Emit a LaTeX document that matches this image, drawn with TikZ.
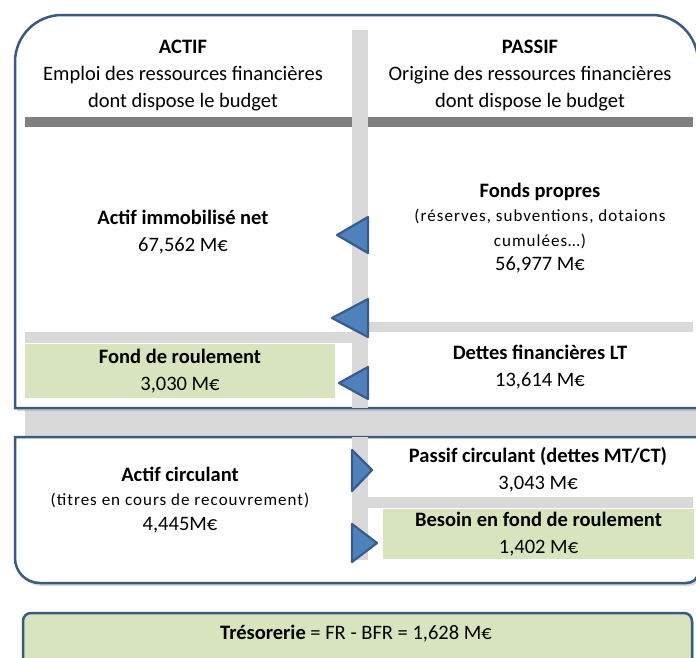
\documentclass[tikz,border=0pt]{standalone}
\usepackage{fontspec}
\setmainfont{Carlito}
\usetikzlibrary{positioning,shadows}

\definecolor{boxline}{HTML}{3A5A80}
\definecolor{barlight}{HTML}{D9D9D9}
\definecolor{bardark}{HTML}{808080}
\definecolor{greenfill}{HTML}{D7E4BD}
\definecolor{trifill}{HTML}{4F81BD}
\definecolor{triline}{HTML}{385D8A}

\newcommand{\smallspaced}{\fontsize{17}{24.5}\selectfont\addfontfeatures{LetterSpace=6}}

\tikzset{
  frame/.style={draw=boxline, line width=2.5pt, fill=white,
    drop shadow={opacity=0.3, shadow xshift=2pt, shadow yshift=-3pt}},
  bar/.style={fill=barlight, draw=none},
  tri/.style={fill=trifill, draw=triline, line width=2.2pt, line join=round},
  greenbox/.style={fill=greenfill, inner sep=0pt, align=center,
    font=\fontsize{20.5}{27}\selectfont},
  txt/.style={align=center, font=\fontsize{20.5}{27}\selectfont},
  tighttxt/.style={align=center, font=\fontsize{20.5}{24.5}\selectfont},
}

\begin{document}
\begin{tikzpicture}[x=1pt, y=-1pt]
    \useasboundingbox (0,0) rectangle (696,657);

    % Band between the two frames
    \fill[barlight] (25,410) rectangle (696,437);

    % Frames
    \draw[frame] (15,408) -- (15,62) .. controls (15,36) and (36,15) .. (62,15)
        -- (652,15) .. controls (677,15) and (698,36) .. (698,62) -- (698,408) -- cycle;
    \draw[frame] (15,437) -- (698,437) -- (698,572) .. controls (698,579) and (693,583) .. (686,583)
        -- (40,583) .. controls (26,583) and (15,572) .. (15,558) -- cycle;
    \draw[frame, fill=greenfill, rounded corners=8pt] (23,613) rectangle (692,680);

    % Separating bars
    \fill[bardark] (25,117) rectangle (693,127);
    \fill[bar] (352,30) rectangle (368,408);
    \fill[bar] (368,322) rectangle (693,332);
    \fill[bar] (25,332) rectangle (352,343);
    \fill[bar] (352,437) rectangle (368,560);
    \fill[bar] (352,497) rectangle (693,508);

    % Headers
    \node[txt] (actif) at (183,76) {\textbf{ACTIF}\\Emploi des ressources financières\\dont dispose le budget};
    \node[txt] (passif) at (530,76) {\textbf{PASSIF}\\Origine des ressources financières\\dont dispose le budget};

    % Long term
    \node[txt] (immo) at (183,232) {\textbf{Actif immobilisé net}\\67,562 M€};
    \node[tighttxt] (fondspropres) at (540,228) {\textbf{Fonds propres}\\{\smallspaced(réserves, subventions, dotaions}\\{\smallspaced cumulées…)}\\56,977 M€};
    \node[greenbox, minimum width=310, minimum height=54] (fondroul) at (180,371) {\textbf{Fond de roulement}\\3,030 M€};
    \node[txt] (dettes) at (540,367) {\textbf{Dettes financières LT}\\13,614 M€};

    % Short term
    \node[tighttxt] (actcirc) at (180,500) {\textbf{Actif circulant}\\{\smallspaced(titres en cours de recouvrement)}\\4,445M€};
    \node[txt] (passcirc) at (538,470) {\textbf{Passif circulant (dettes MT/CT)}\\3,043 M€};
    \node[greenbox, minimum width=311, minimum height=50] (bfr) at (538.5,534) {\textbf{Besoin en fond de roulement}\\1,402 M€};

    % Treasury
    \node[txt] (treso) at (356,634) {\textbf{Trésorerie} = FR - BFR = 1,628 M€};

    % Triangles
    \draw[tri] (337,235) -- (368,217) -- (368,253) -- cycle;
    \draw[tri] (332,318) -- (368,299) -- (368,337) -- cycle;
    \draw[tri] (339,383) -- (368,367) -- (368,399) -- cycle;
    \draw[tri] (372,470) -- (352,450) -- (352,491) -- cycle;
    \draw[tri] (377,543) -- (352,524) -- (352,562) -- cycle;
\end{tikzpicture}
\end{document}
